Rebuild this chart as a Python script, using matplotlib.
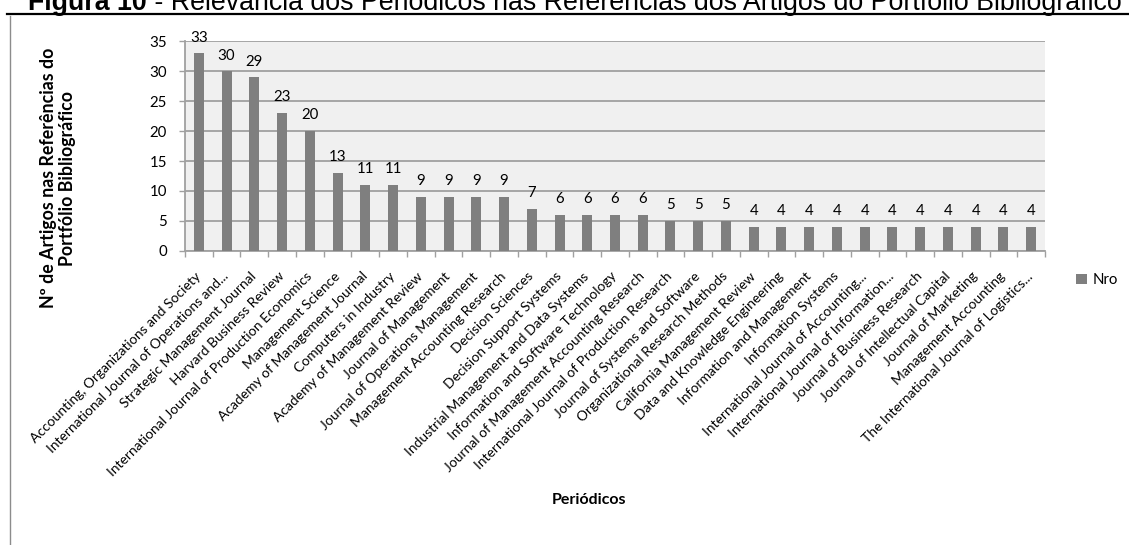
import matplotlib.pyplot as plt
from matplotlib.lines import Line2D

journals = [
    'Accounting, Organizations and Society',
    'International Journal of Operations and...',
    'Strategic Management Journal',
    'Harvard Business Review',
    'International Journal of Production Economics',
    'Management Science',
    'Academy of Management Journal',
    'Computers in Industry',
    'Academy of Management Review',
    'Journal of Management',
    'Journal of Operations Management',
    'Management Accounting Research',
    'Decision Sciences',
    'Decision Support Systems',
    'Industrial Management and Data Systems',
    'Information and Software Technology',
    'Journal of Management Accounting Research',
    'International Journal of Production Research',
    'Journal of Systems and Software',
    'Organizational Research Methods',
    'California Management Review',
    'Data and Knowledge Engineering',
    'Information and Management',
    'Information Systems',
    'International Journal of Accounting...',
    'International Journal of Information...',
    'Journal of Business Research',
    'Journal of Intellectual Capital',
    'Journal of Marketing',
    'Management Accounting',
    'The International Journal of Logistics...',
]
nro = [33, 30, 29, 23, 20, 13, 11, 11, 9, 9, 9, 9, 7, 6, 6, 6, 6, 5, 5, 5,
       4, 4, 4, 4, 4, 4, 4, 4, 4, 4, 4]
yticks = [0, 5, 10, 15, 20, 25, 30, 35]

W, H = 1129, 545
fig = plt.figure(figsize=(W / 100, H / 100), dpi=100)
ax = fig.add_axes([185 / W, 1 - 250.7 / H, (1045 - 185) / W, (250.7 - 41.5) / H])

font = 'Lato'
grid_c = '#a0a0a0'
bar_c = '#7f7f7f'

x = list(range(len(nro)))
bars = ax.bar(x, nro, width=0.36, color=bar_c, zorder=3, label='Nro')
ax.set_facecolor('#f0f0f0')
ax.set_xlim(-0.5, len(nro) - 0.5)
ax.set_ylim(0, 35)
ax.set_yticks(yticks)
ax.set_yticklabels([str(v) for v in yticks], fontfamily=font, fontsize=10.8)
ax.yaxis.grid(True, color=grid_c, lw=1.3, zorder=1)
ax.tick_params(axis='y', length=4, width=1, color=grid_c, pad=9)

ax.set_xticks(x)
ax.set_xticklabels(journals, rotation=45, ha='right', va='center',
                   rotation_mode='anchor', fontfamily=font, fontsize=10)
ax.set_xticks([i - 0.5 for i in range(len(nro) + 1)], minor=True)
ax.tick_params(axis='x', which='major', length=0, pad=17)
ax.tick_params(axis='x', which='minor', length=4, width=1, color=grid_c)

for s in ['top', 'right']:
    ax.spines[s].set_visible(False)
for s in ['left', 'bottom']:
    ax.spines[s].set_color(grid_c)
    ax.spines[s].set_linewidth(1.3)

for xi, v in zip(x, nro):
    ax.annotate(str(v), (xi, v), xytext=(0, 8.5), textcoords='offset points',
                ha='center', va='baseline', fontfamily=font, fontsize=10.8,
                annotation_clip=False)

ax.set_xlabel('Periódicos', fontfamily=font, fontsize=11.5, fontweight='bold')
ax.xaxis.set_label_coords(0.47, -1.16)
fig.text(58 / W, 1 - 178 / H, 'Nº de Artigos nas Referências do\nPortfólio Bibliográfico',
         rotation=90, ha='center', va='center', fontfamily=font, fontsize=12.8,
         fontweight='bold', linespacing=1.2)

fig.legend(handles=[bars], labels=['Nro'], loc='center left',
           bbox_to_anchor=(1070 / W, 1 - 280 / H), frameon=False,
           prop={'family': font, 'size': 10.8}, handlelength=0.7,
           handleheight=0.7, handletextpad=0.4, borderaxespad=0)

# title + rule
t1 = fig.text(28 / W, 1 - 10 / H, 'Figura 10', fontfamily='Liberation Sans',
              fontsize=19.3, fontweight='bold', va='baseline')
fig.canvas.draw()
bb = t1.get_window_extent()
fig.text(bb.x1 / W, 1 - 10 / H, ' - Relevância dos Periódicos nas Referências dos Artigos do Portfólio Bibliográfico',
         fontfamily='Liberation Sans', fontsize=19.3, va='baseline')
fig.add_artist(Line2D([7 / W, 1], [1 - 13.5 / H] * 2, color='black', lw=1.6))
fig.add_artist(Line2D([10 / W, 10 / W], [0, 1 - 16 / H], color='#8c8c8c', lw=1))

fig.savefig('out.png', dpi=100)
